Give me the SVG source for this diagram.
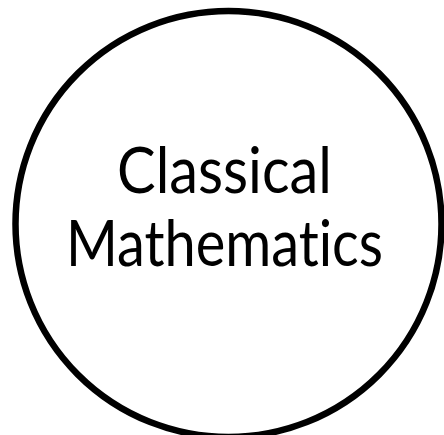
<svg xmlns="http://www.w3.org/2000/svg" width="444" height="435" viewBox="0 0 444 435">
<style>
.node-shape{fill:#ffffff;stroke:#000000;stroke-width:6.5}
.label{font-family:Lato,"Noto Sans","Liberation Sans",sans-serif;font-size:63px;fill:#000000;text-anchor:middle;font-variant-ligatures:none;font-feature-settings:"liga" 0,"clig" 0}
</style>
<rect width="444" height="435" fill="#ffffff"/>
<g id="connectors"></g>
<g id="node-classical-mathematics">
<circle class="node-shape" cx="228.5" cy="224" r="213"/>
<text class="label" x="224.5" y="193" textLength="215" lengthAdjust="spacingAndGlyphs">Classical</text>
<text class="label" x="224.5" y="266" textLength="317" lengthAdjust="spacingAndGlyphs">Mathematics</text>
</g>
</svg>
